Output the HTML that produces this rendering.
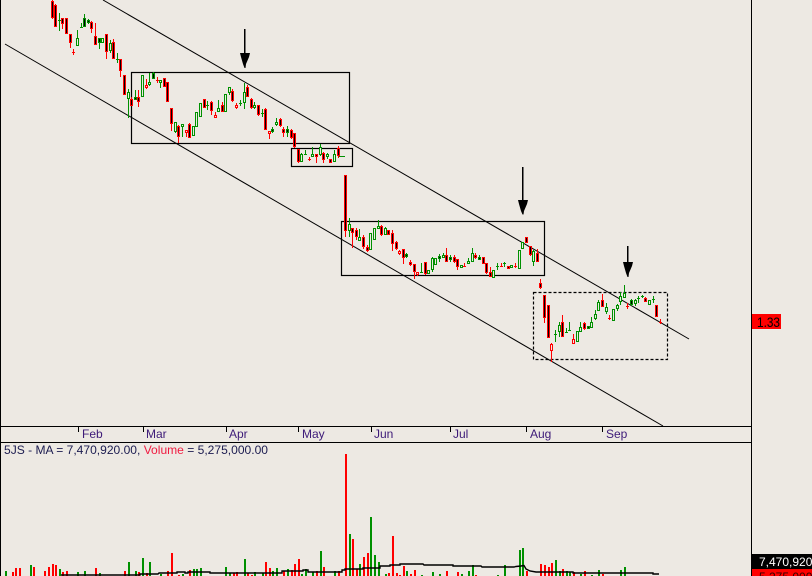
<!DOCTYPE html>
<html><head><meta charset="utf-8"><style>
html,body{margin:0;padding:0;background:#ede9e3;}
svg{display:block;font-family:"Liberation Sans",Arial,sans-serif;}
</style></head><body>
<svg width="812" height="576" viewBox="0 0 812 576" xmlns="http://www.w3.org/2000/svg">
<rect x="0" y="0" width="812" height="576" fill="#ede9e3"/>
<!-- trend lines -->
<line x1="103" y1="0" x2="689" y2="339" stroke="#000" stroke-width="1"/>
<line x1="5" y1="44" x2="663" y2="426" stroke="#000" stroke-width="1"/>
<!-- boxes -->
<g fill="none" stroke="#000" stroke-width="1.2">
<rect x="131.5" y="72.5" width="218" height="71"/>
<rect x="291.5" y="148.5" width="61" height="18"/>
<rect x="341.5" y="221.5" width="203" height="54"/>
<rect x="533.5" y="292.5" width="134" height="67" stroke-dasharray="3,2"/>
</g>
<!-- arrows -->
<g fill="#000">
<rect x="244" y="29" width="1.5" height="26"/>
<polygon points="240,53 250,53 249,57 246,64 245.5,68 244.5,68 243,64 241,57"/>
<rect x="522" y="167" width="1.5" height="34"/>
<polygon points="518,200 528,200 527,204 524,211 523.5,214.5 522.5,214.5 521,211 519,204"/>
<rect x="627" y="246" width="1.5" height="17"/>
<polygon points="623,262 633,262 632,266 629,273 628.5,277 627.5,277 626,273 624,266"/>
</g>
<!-- candles red -->
<path fill="#ff0000" d="M52 0h1V19h-1zM51 1h3V18h-3zM55 4h1V27h-1zM54 5h3V27h-3zM62 18h1V29h-1zM61 18h3V24h-3zM65 18h3V34h-3zM70 34h1V48h-1zM69 34h3V43h-3zM73 49h1V55h-1zM72 52h3v1h-3zM91 21h1V33h-1zM90 22h3V29h-3zM95 23h1V45h-1zM94 36h3V45h-3zM106 34h1V59h-1zM105 34h3V52h-3zM113 39h1V59h-1zM112 42h3V59h-3zM120 59h1V77h-1zM119 59h3V71h-3zM123 75h3V95h-3zM131 97h1V106h-1zM130 99h3V106h-3zM138 90h1V107h-1zM137 97h3V102h-3zM146 79h1V89h-1zM145 85h3V88h-3zM157 77h1V83h-1zM156 80h3v1h-3zM163 78h3V87h-3zM166 82h3V102h-3zM171 108h1V131h-1zM170 108h3V124h-3zM178 125h1V143h-1zM177 126h3V137h-3zM186 130h1V137h-1zM185 130h3V133h-3zM189 123h1V138h-1zM188 124h3V138h-3zM203 99h3V108h-3zM211 101h1V115h-1zM210 102h3V111h-3zM215 112h1V118h-1zM214 115h3V118h-3zM222 102h1V112h-1zM221 105h3V112h-3zM232 89h1V102h-1zM231 91h3V101h-3zM236 103h1V109h-1zM235 105h3V108h-3zM247 85h1V97h-1zM246 87h3V97h-3zM251 98h1V109h-1zM250 99h3V108h-3zM258 105h1V116h-1zM257 105h3V115h-3zM265 108h1V130h-1zM264 109h3V130h-3zM269 131h1V139h-1zM268 131h3V134h-3zM280 118h1V127h-1zM279 119h3V126h-3zM283 127h1V137h-1zM282 129h3V133h-3zM291 129h1V139h-1zM290 130h3V138h-3zM294 133h1V148h-1zM293 133h3V147h-3zM298 149h1V163h-1zM297 149h3V162h-3zM309 157h1V161h-1zM308 159h3v1h-3zM316 154h1V163h-1zM315 154h3V157h-3zM323 152h1V163h-1zM322 153h3V160h-3zM329 159h3V163h-3zM338 146h1V158h-1zM337 148h3V156h-3zM345 175h1V237h-1zM344 175h3V231h-3zM352 228h1V248h-1zM351 228h3V233h-3zM356 228h1V240h-1zM355 230h3V237h-3zM363 235h1V249h-1zM362 237h3V247h-3zM367 245h1V252h-1zM366 247h3V251h-3zM381 225h1V236h-1zM380 226h3V235h-3zM387 230h3V235h-3zM392 230h1V251h-1zM391 233h3V244h-3zM396 241h1V250h-1zM395 242h3V249h-3zM399 250h1V255h-1zM398 251h3V254h-3zM403 249h1V264h-1zM402 249h3V258h-3zM410 260h1V266h-1zM409 262h3V265h-3zM414 264h1V279h-1zM413 264h3V272h-3zM417 272h1V276h-1zM416 272h3V275h-3zM425 262h1V275h-1zM424 262h3V274h-3zM446 248h1V262h-1zM445 255h3V262h-3zM454 255h1V263h-1zM453 257h3V262h-3zM457 259h1V270h-1zM456 259h3V267h-3zM464 263h1V267h-1zM463 266h3v1h-3zM475 253h1V259h-1zM474 255h3V258h-3zM482 257h3V264h-3zM486 263h1V274h-1zM485 263h3V273h-3zM490 267h1V277h-1zM489 272h3V277h-3zM501 263h1V267h-1zM500 266h3v1h-3zM507 266h3V269h-3zM515 263h1V268h-1zM514 266h3v1h-3zM525 237h3V243h-3zM530 246h1V256h-1zM529 246h3V255h-3zM537 249h1V262h-1zM536 253h3V262h-3zM540 279h1V289h-1zM539 283h3V288h-3zM544 295h1V323h-1zM543 295h3V318h-3zM547 305h3V338h-3zM551 343h1V362h-1zM550 344h3V351h-3zM562 315h1V337h-1zM561 322h3V337h-3zM573 334h1V344h-1zM572 339h3V344h-3zM584 322h1V330h-1zM583 323h3V329h-3zM602 294h1V307h-1zM601 300h3V307h-3zM609 315h1V320h-1zM608 318h3v1h-3zM627 303h1V309h-1zM626 306h3v1h-3zM645 297h1V302h-1zM644 298h3V302h-3zM655 305h3V317h-3zM660 319h1V324h-1zM659 322h3v1h-3z"/>
<!-- candles green -->
<path fill="#009000" d="M59 13h1V31h-1zM58 20h3v1h-3zM77 30h1V46h-1zM76 38h3V46h-3zM81 23h1V28h-1zM80 27h3v1h-3zM84 14h1V27h-1zM83 18h3V27h-3zM88 19h1V24h-1zM87 20h3V23h-3zM99 38h1V49h-1zM98 38h3V43h-3zM101 38h3V43h-3zM110 40h1V53h-1zM109 43h3V51h-3zM117 53h1V63h-1zM116 59h3v1h-3zM128 89h1V118h-1zM127 92h3V99h-3zM135 90h1V100h-1zM134 97h3V100h-3zM141 75h3V97h-3zM149 73h1V86h-1zM148 82h3V85h-3zM153 72h1V79h-1zM152 73h3V79h-3zM160 80h1V88h-1zM159 80h3V83h-3zM175 122h1V133h-1zM174 122h3V132h-3zM182 124h1V137h-1zM181 124h3V127h-3zM192 126h3V136h-3zM195 112h3V127h-3zM199 103h3V117h-3zM207 101h1V110h-1zM206 105h3v1h-3zM218 100h1V112h-1zM217 108h3V112h-3zM224 94h3V112h-3zM229 87h1V95h-1zM228 87h3V93h-3zM240 100h1V106h-1zM239 103h3v1h-3zM244 83h1V109h-1zM243 92h3V103h-3zM254 102h1V109h-1zM253 105h3V108h-3zM262 109h1V117h-1zM261 113h3v1h-3zM272 127h1V133h-1zM271 129h3V132h-3zM276 118h1V126h-1zM275 122h3V125h-3zM287 126h1V137h-1zM286 129h3V133h-3zM301 153h1V162h-1zM300 154h3V162h-3zM305 150h1V155h-1zM304 154h3v1h-3zM312 147h1V157h-1zM311 154h3V157h-3zM320 144h1V156h-1zM319 147h3V155h-3zM327 153h1V159h-1zM326 154h3V157h-3zM334 150h1V162h-1zM333 154h3V162h-3zM339 156h6v1h-6zM349 218h1V237h-1zM348 224h3V231h-3zM359 229h1V241h-1zM358 237h3V241h-3zM369 233h3V250h-3zM373 228h3V240h-3zM378 220h1V229h-1zM377 226h3V229h-3zM385 227h1V235h-1zM384 228h3V235h-3zM406 253h1V258h-1zM405 254h3V257h-3zM421 263h1V273h-1zM420 272h3v1h-3zM427 270h3V274h-3zM432 257h1V272h-1zM431 258h3V270h-3zM434 258h3V265h-3zM439 254h1V262h-1zM438 256h3V259h-3zM443 253h1V258h-1zM442 255h3V258h-3zM450 255h1V262h-1zM449 257h3V260h-3zM460 265h3V268h-3zM468 258h1V264h-1zM467 261h3V264h-3zM472 248h1V262h-1zM471 253h3V262h-3zM479 255h1V260h-1zM478 257h3V260h-3zM492 270h3V278h-3zM497 263h1V270h-1zM496 266h3v1h-3zM504 262h1V267h-1zM503 263h3v1h-3zM510 265h3V268h-3zM518 250h3V269h-3zM521 242h3V249h-3zM533 250h1V266h-1zM532 251h3V262h-3zM555 330h1V342h-1zM554 334h3v1h-3zM559 322h1V337h-1zM558 325h3V332h-3zM566 328h1V333h-1zM565 332h3v1h-3zM569 322h1V331h-1zM568 330h3v1h-3zM576 331h3V342h-3zM580 322h1V332h-1zM579 327h3V332h-3zM587 326h3V329h-3zM591 317h1V328h-1zM590 322h3V328h-3zM595 310h1V320h-1zM594 314h3V319h-3zM598 300h1V311h-1zM597 302h3V311h-3zM606 303h1V314h-1zM605 307h3V312h-3zM612 309h3V321h-3zM617 304h1V311h-1zM616 305h3V309h-3zM620 292h1V305h-1zM619 296h3V302h-3zM624 285h1V298h-1zM623 293h3V298h-3zM631 299h1V306h-1zM630 300h3V305h-3zM635 299h1V306h-1zM634 300h3V304h-3zM638 296h1V303h-1zM637 298h3v1h-3zM642 295h1V298h-1zM641 296h3v1h-3zM648 300h3V305h-3zM653 296h1V303h-1zM652 299h3v1h-3z"/>
<!-- filled interiors -->
<path fill="#000" d="M52 2h1V17h-1zM55 6h1V26h-1zM62 19h1V23h-1zM66 19h1V33h-1zM70 35h1V42h-1zM91 23h1V28h-1zM95 37h1V44h-1zM106 35h1V51h-1zM113 43h1V58h-1zM120 60h1V70h-1zM124 76h1V94h-1zM131 100h1V105h-1zM138 98h1V101h-1zM164 79h1V86h-1zM167 83h1V101h-1zM171 109h1V123h-1zM178 127h1V136h-1zM189 125h1V137h-1zM204 100h1V107h-1zM211 103h1V110h-1zM222 106h1V111h-1zM232 92h1V100h-1zM247 88h1V96h-1zM251 100h1V107h-1zM258 106h1V114h-1zM265 110h1V129h-1zM280 120h1V125h-1zM283 130h1V132h-1zM291 131h1V137h-1zM294 134h1V146h-1zM298 150h1V161h-1zM316 155h1V156h-1zM323 154h1V159h-1zM330 160h1V162h-1zM338 149h1V155h-1zM345 176h1V230h-1zM352 229h1V232h-1zM356 231h1V236h-1zM363 238h1V246h-1zM367 248h1V250h-1zM381 227h1V234h-1zM388 231h1V234h-1zM392 234h1V243h-1zM396 243h1V248h-1zM403 250h1V257h-1zM410 263h1V264h-1zM414 265h1V271h-1zM425 263h1V273h-1zM446 256h1V261h-1zM454 258h1V261h-1zM457 260h1V266h-1zM475 256h1V257h-1zM483 258h1V263h-1zM486 264h1V272h-1zM490 273h1V276h-1zM508 267h1V268h-1zM526 238h1V242h-1zM530 247h1V254h-1zM537 254h1V261h-1zM540 284h1V287h-1zM544 296h1V317h-1zM548 306h1V337h-1zM562 323h1V336h-1zM584 324h1V328h-1zM602 301h1V306h-1zM645 299h1V301h-1zM656 306h1V316h-1zM84 19h1V26h-1zM88 21h1V22h-1zM99 39h1V42h-1zM135 98h1V99h-1zM153 74h1V78h-1zM272 130h1V131h-1zM287 130h1V132h-1zM406 255h1V256h-1zM439 257h1V258h-1zM450 258h1V259h-1zM479 258h1V259h-1zM588 327h1V328h-1zM631 301h1V304h-1z"/>
<!-- hollow interiors -->
<path fill="#ede9e3" d="M146 86h1V87h-1zM186 131h1V132h-1zM215 116h1V117h-1zM236 106h1V107h-1zM269 132h1V133h-1zM399 252h1V253h-1zM417 273h1V274h-1zM551 345h1V350h-1zM573 340h1V343h-1zM77 39h1V45h-1zM102 39h1V42h-1zM110 44h1V50h-1zM128 93h1V98h-1zM142 76h1V96h-1zM149 83h1V84h-1zM160 81h1V82h-1zM175 123h1V131h-1zM182 125h1V126h-1zM193 127h1V135h-1zM196 113h1V126h-1zM200 104h1V116h-1zM218 109h1V111h-1zM225 95h1V111h-1zM229 88h1V92h-1zM244 93h1V102h-1zM254 106h1V107h-1zM276 123h1V124h-1zM301 155h1V161h-1zM312 155h1V156h-1zM320 148h1V154h-1zM327 155h1V156h-1zM334 155h1V161h-1zM349 225h1V230h-1zM359 238h1V240h-1zM370 234h1V249h-1zM374 229h1V239h-1zM378 227h1V228h-1zM385 229h1V234h-1zM428 271h1V273h-1zM432 259h1V269h-1zM435 259h1V264h-1zM443 256h1V257h-1zM461 266h1V267h-1zM468 262h1V263h-1zM472 254h1V261h-1zM493 271h1V277h-1zM511 266h1V267h-1zM519 251h1V268h-1zM522 243h1V248h-1zM533 252h1V261h-1zM559 326h1V331h-1zM577 332h1V341h-1zM580 328h1V331h-1zM591 323h1V327h-1zM595 315h1V318h-1zM598 303h1V310h-1zM606 308h1V311h-1zM613 310h1V320h-1zM617 306h1V308h-1zM620 297h1V301h-1zM624 294h1V297h-1zM635 301h1V303h-1zM649 301h1V304h-1z"/>
<!-- volume bars -->
<path fill="#ff0000" d="M12 572h2V576h-2zM15 568h2V576h-2zM19 568h2V576h-2zM33 567h2V576h-2zM44 571h2V576h-2zM48 567h2V576h-2zM52 564h2V576h-2zM55 565h2V576h-2zM62 572h2V576h-2zM66 571h2V576h-2zM95 568h2V576h-2zM124 571h2V576h-2zM138 572h2V576h-2zM146 573h2V576h-2zM167 571h2V576h-2zM171 553h2V576h-2zM178 575h2V576h-2zM189 570h2V576h-2zM233 573h2V576h-2zM236 572h2V576h-2zM247 573h2V576h-2zM251 575h2V576h-2zM265 562h2V576h-2zM269 568h2V576h-2zM283 571h2V576h-2zM291 570h2V576h-2zM294 564h2V576h-2zM298 559h2V576h-2zM316 571h2V576h-2zM323 567h2V576h-2zM338 571h2V576h-2zM345 454h2V576h-2zM352 539h2V576h-2zM356 569h2V576h-2zM363 557h2V576h-2zM367 553h2V576h-2zM388 573h2V576h-2zM392 536h2V576h-2zM396 573h2V576h-2zM399 575h2V576h-2zM403 566h2V576h-2zM410 574h2V576h-2zM414 570h2V576h-2zM446 571h2V576h-2zM457 572h2V576h-2zM475 575h2V576h-2zM526 571h2V576h-2zM540 564h2V576h-2zM544 565h2V576h-2zM548 567h2V576h-2zM551 563h2V576h-2zM562 569h2V576h-2zM573 572h2V576h-2zM584 571h2V576h-2zM602 574h2V576h-2z"/>
<path fill="#009000" d="M5 571h2V576h-2zM30 565h2V576h-2zM59 569h2V576h-2zM77 572h2V576h-2zM84 571h2V576h-2zM99 573h2V576h-2zM128 562h2V576h-2zM135 571h2V576h-2zM142 558h2V576h-2zM149 562h2V576h-2zM160 574h2V576h-2zM182 574h2V576h-2zM193 569h2V576h-2zM196 569h2V576h-2zM200 568h2V576h-2zM225 567h2V576h-2zM229 573h2V576h-2zM244 559h2V576h-2zM254 572h2V576h-2zM262 573h2V576h-2zM272 571h2V576h-2zM276 568h2V576h-2zM287 569h2V576h-2zM301 574h2V576h-2zM305 569h2V576h-2zM312 572h2V576h-2zM320 551h2V576h-2zM334 571h2V576h-2zM349 534h2V576h-2zM359 564h2V576h-2zM370 517h2V576h-2zM374 555h2V576h-2zM378 562h2V576h-2zM385 574h2V576h-2zM406 571h2V576h-2zM421 575h2V576h-2zM432 572h2V576h-2zM439 574h2V576h-2zM461 574h2V576h-2zM468 571h2V576h-2zM472 565h2V576h-2zM497 575h2V576h-2zM504 565h2V576h-2zM519 550h2V576h-2zM522 548h2V576h-2zM555 560h2V576h-2zM559 571h2V576h-2zM566 571h2V576h-2zM569 572h2V576h-2zM580 574h2V576h-2zM591 575h2V576h-2zM598 570h2V576h-2zM620 570h2V576h-2zM624 567h2V576h-2z"/>
<!-- MA line -->
<polyline fill="none" stroke="#000" stroke-width="1.4" points="61,575 140,575 140,574 158,574 159,573 177,573 177,572 185,572 185,573 188,573 188,572 210,572 210,573 282,573 282,571 303,571 303,570 308,570 308,572 342,572 342,570 345,570 345,569 363,569 363,568 380,568 380,566 390,566 390,565 400,565 400,564 423,564 424,565 453,565 453,566 481,566 482,567 514,567 516,566.5 521,566 524,565.5 526,569 530,571 536,572 573,572 573,573 653,573 653,574 659,574"/>
<!-- frame -->
<rect x="0" y="0" width="1" height="576" fill="#000"/>
<rect x="751" y="0" width="1" height="576" fill="#000"/>
<rect x="0" y="426" width="752" height="1" fill="#000"/>
<rect x="0" y="442" width="752" height="1" fill="#000"/>
<g fill="#000">
<rect x="78" y="427" width="1" height="5"/>
<rect x="143" y="427" width="1" height="5"/>
<rect x="226" y="427" width="1" height="5"/>
<rect x="298" y="427" width="1" height="5"/>
<rect x="371" y="427" width="1" height="5"/>
<rect x="450" y="427" width="1" height="5"/>
<rect x="526" y="427" width="1" height="5"/>
<rect x="602" y="427" width="1" height="5"/>
</g>
<g font-size="12" fill="#3d1a78">
<text x="82" y="438">Feb</text>
<text x="146" y="438">Mar</text>
<text x="229" y="438">Apr</text>
<text x="302" y="438">May</text>
<text x="374" y="438">Jun</text>
<text x="453" y="438">Jul</text>
<text x="530" y="438">Aug</text>
<text x="606" y="438">Sep</text>
</g>
<text x="4" y="454" font-size="12" fill="#1c1c50" textLength="264" lengthAdjust="spacingAndGlyphs">5JS - MA = 7,470,920.00, <tspan fill="#f01a40">Volume</tspan> = 5,275,000.00</text>
<!-- right labels -->
<rect x="752" y="314" width="29" height="15" fill="#ff0000"/>
<text x="757" y="327" font-size="14" fill="#000" textLength="23" lengthAdjust="spacingAndGlyphs">1.33</text>
<rect x="752" y="554" width="60" height="15" fill="#000"/>
<text x="759" y="566" font-size="12" fill="#fff">7,470,920</text>
<rect x="752" y="569" width="60" height="7" fill="#ff0000"/>
<text x="759" y="581" font-size="12" fill="#300">5,275,000</text>
</svg>
</body></html>
